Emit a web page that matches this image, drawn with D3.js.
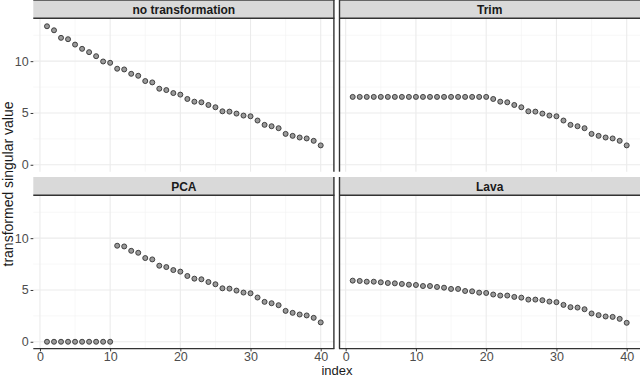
<!DOCTYPE html>
<html lang="en">
<head>
<meta charset="utf-8">
<title>singular values</title>
<script src="https://cdn.jsdelivr.net/npm/d3@7"></script>
<style>
  body { margin: 0; background: #fff; }
  svg { display: block; font-family: "Liberation Sans", Arial, sans-serif; }
  .grid-major { stroke: #ebebeb; stroke-width: 1.1; }
  .grid-minor { stroke: #f2f2f2; stroke-width: 0.6; }
  .strip { fill: #d9d9d9; }
  .strip-text { font-size: 12px; font-weight: bold; fill: #1a1a1a; }
  .tick text { font-size: 12.5px; fill: #4d4d4d; }
  .tick line { stroke: #333; }
  .pt { fill: #9a9a9a; stroke: #333; stroke-width: 0.9; }
</style>
</head>
<body>
<div id="chart"></div>
<script>
// data
var indexes = [1,2,3,4,5,6,7,8,9,10,11,12,13,14,15,16,17,18,19,20,
               21,22,23,24,25,26,27,28,29,30,31,32,33,34,35,36,37,38,39,40];
var panelNames = ['no transformation', 'Trim', 'PCA', 'Lava'];
var noTransformation = [13.37,12.98,12.25,12.12,11.60,11.19,10.87,10.48,9.97,9.84,
                        9.27,9.20,8.78,8.59,8.08,7.95,7.34,7.21,6.92,6.77,
                        6.35,6.09,6.03,5.77,5.55,5.16,5.13,4.94,4.75,4.68,
                        4.27,3.85,3.72,3.53,2.98,2.79,2.63,2.54,2.31,1.87];
var trim = [6.55,6.55,6.55,6.55,6.55,6.55,6.55,6.55,6.55,6.55,
            6.55,6.55,6.55,6.55,6.55,6.55,6.55,6.55,6.55,6.55,
            6.35,6.09,6.03,5.77,5.55,5.16,5.13,4.94,4.75,4.68,
            4.27,3.85,3.72,3.53,2.98,2.79,2.63,2.54,2.31,1.87];
var pca = [0,0,0,0,0,0,0,0,0,0,
           9.27,9.20,8.78,8.59,8.08,7.95,7.34,7.21,6.92,6.77,
           6.35,6.09,6.03,5.77,5.55,5.16,5.13,4.94,4.75,4.68,
           4.27,3.85,3.72,3.53,2.98,2.79,2.63,2.54,2.31,1.87];
var lava = [5.90,5.87,5.80,5.80,5.74,5.67,5.64,5.58,5.51,5.48,
            5.38,5.38,5.29,5.22,5.10,5.10,4.90,4.87,4.74,4.71,
            4.56,4.46,4.46,4.33,4.26,4.07,4.07,4.01,3.88,3.82,
            3.56,3.34,3.30,3.14,2.73,2.57,2.44,2.40,2.21,1.83];
var seriesList = [noTransformation, trim, pca, lava];
var xTicks = [0, 10, 20, 30, 40];
var xMinor = [5, 15, 25, 35];
var yTicks = [0, 5, 10];
var yMinor = [2.5, 7.5, 12.5];

var width = 640, height = 378;
var svg = d3.select('#chart').append('svg')
  .attr('width', width).attr('height', height);

// panel geometry
var cols = [[33.3, 334.4], [339.0, 640.4]];
var rows = [{ strip: [0, 19], plot: [19, 171.7] }, { strip: [177, 196], plot: [196, 348.7] }];
var stripH = 19;

var xDomain = [-0.95, 41.95];
var yDomain = [-0.67, 14.07];

seriesList.forEach(function (vals, k) {
  var c = k % 2, r = Math.floor(k / 2);
  var x0 = cols[c][0], x1 = cols[c][1];
  var row = rows[r];
  var x = d3.scaleLinear().domain(xDomain).range([x0, x1]);
  var y = d3.scaleLinear().domain(yDomain).range([row.plot[1], row.plot[0]]);
  var g = svg.append('g');

  // grid
  g.selectAll('.vmin').data(xMinor).enter().append('line').attr('class', 'grid-minor')
    .attr('x1', d => x(d)).attr('x2', d => x(d)).attr('y1', row.plot[0]).attr('y2', row.plot[1]);
  g.selectAll('.hmin').data(yMinor).enter().append('line').attr('class', 'grid-minor')
    .attr('y1', d => y(d)).attr('y2', d => y(d)).attr('x1', x0).attr('x2', x1);
  g.selectAll('.vmaj').data(xTicks).enter().append('line').attr('class', 'grid-major')
    .attr('x1', d => x(d)).attr('x2', d => x(d)).attr('y1', row.plot[0]).attr('y2', row.plot[1]);
  g.selectAll('.hmaj').data(yTicks).enter().append('line').attr('class', 'grid-major')
    .attr('y1', d => y(d)).attr('y2', d => y(d)).attr('x1', x0).attr('x2', x1);

  // strip
  g.append('rect').attr('class', 'strip')
    .attr('x', x0).attr('y', row.strip[0]).attr('width', x1 - x0).attr('height', stripH);
  g.append('line').attr('x1', x0).attr('x2', x1)
    .attr('y1', row.strip[1] - 0.7).attr('y2', row.strip[1] - 0.7)
    .attr('stroke', '#333').attr('stroke-width', 1.4);
  if (r === 0) {
    g.append('line').attr('x1', x0).attr('x2', x1).attr('y1', 0.5).attr('y2', 0.5)
      .attr('stroke', '#666').attr('stroke-width', 1);
  }
  g.append('text').attr('class', 'strip-text')
    .attr('x', (x0 + x1) / 2).attr('y', row.strip[0] + 14)
    .attr('text-anchor', 'middle').text(panelNames[k]);

  // vertical panel edge
  var ex = c === 0 ? x1 - 0.5 : x0 + 0.5;
  g.append('line').attr('x1', ex).attr('x2', ex)
    .attr('y1', row.strip[0]).attr('y2', row.plot[1])
    .attr('stroke', '#333').attr('stroke-width', 1.4);

  // points
  g.selectAll('circle').data(vals).enter().append('circle').attr('class', 'pt')
    .attr('cx', (d, i) => x(indexes[i])).attr('cy', d => y(d)).attr('r', 2.5);

  // axes
  if (c === 0) {
    var ya = g.append('g').attr('transform', 'translate(' + x0 + ',0)')
      .call(d3.axisLeft(y).tickValues(yTicks).tickSize(2.7).tickPadding(2).tickFormat(d3.format('d')));
    ya.select('.domain').remove();
  }
  if (r === 1) {
    var xa = g.append('g').attr('transform', 'translate(0,' + row.plot[1] + ')')
      .call(d3.axisBottom(x).tickValues(xTicks).tickSize(2.7).tickPadding(1).tickFormat(d3.format('d')));
    xa.select('.domain').attr('stroke', '#333').attr('stroke-width', 1.2)
      .attr('d', 'M' + x0 + ',0H' + x1);
  }
});

// axis titles
svg.append('text').attr('x', 337).attr('y', 375).attr('text-anchor', 'middle')
  .attr('font-size', 13).attr('fill', '#1a1a1a').text('index');
svg.append('text').attr('transform', 'translate(13,184) rotate(-90)')
  .attr('text-anchor', 'middle').attr('font-size', 14).attr('fill', '#1a1a1a')
  .text('transformed singular value');
</script>
</body>
</html>
